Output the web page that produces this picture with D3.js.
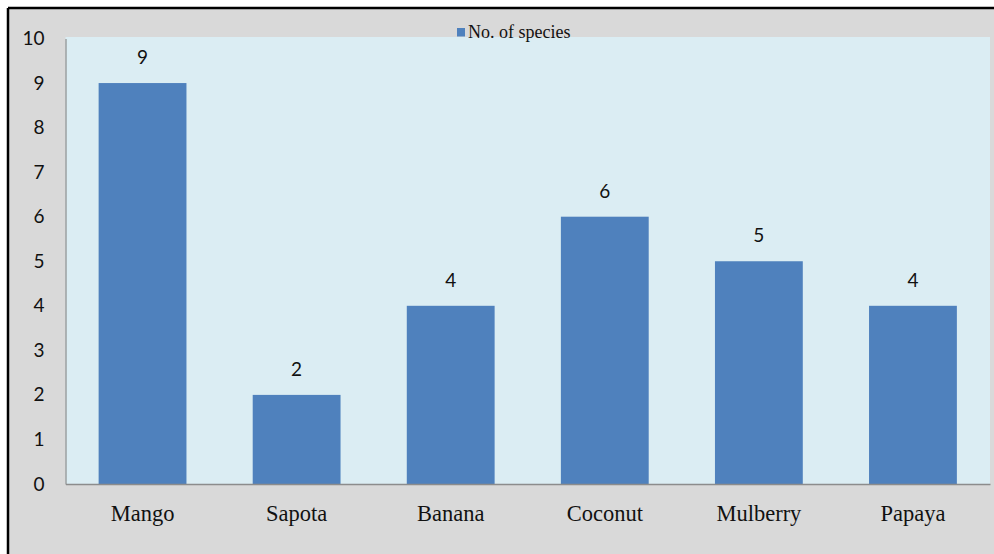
<!DOCTYPE html>
<html>
<head>
<meta charset="utf-8">
<script src="https://cdn.jsdelivr.net/npm/d3@7"></script>
<style>
  html, body { margin: 0; padding: 0; background: #ffffff; }
  svg { display: block; }
</style>
</head>
<body>
<svg id="chart" width="994" height="554"></svg>
<script>
// Fruit crops and the number of species recorded on each
const categories = ["Mango", "Sapota", "Banana", "Coconut", "Mulberry", "Papaya"];
const speciesCounts = [9, 2, 4, 6, 5, 4];
const yTicks = [0, 1, 2, 3, 4, 5, 6, 7, 8, 9, 10];
const seriesName = "No. of species";

const svg = d3.select("#chart");
const W = 994, H = 554;

// outer frame
svg.append("rect").attr("x", 8).attr("y", 8).attr("width", W - 8).attr("height", H - 8)
  .attr("fill", "#d9d9d9");
svg.append("line").attr("x1", 8).attr("x2", 8).attr("y1", 8).attr("y2", H)
  .attr("stroke", "#000").attr("stroke-width", 2.5);
svg.append("line").attr("x1", 8).attr("x2", W).attr("y1", 8).attr("y2", 8)
  .attr("stroke", "#000").attr("stroke-width", 2.5);

const plot = { left: 65.5, right: 990, top: 37, bottom: 484 };

const x = d3.scaleBand().domain(categories)
  .range([plot.left, plot.right]).paddingInner(0.43).paddingOuter(0.215);
const y = d3.scaleLinear().domain([0, 10]).range([plot.bottom, 38.5]);

// plot area
svg.append("rect").attr("x", plot.left).attr("y", plot.top)
  .attr("width", plot.right - plot.left).attr("height", plot.bottom - plot.top)
  .attr("fill", "#dbedf3");

// bars
svg.append("g").selectAll("rect").data(categories).join("rect")
  .attr("x", d => x(d))
  .attr("y", (d, i) => y(speciesCounts[i]))
  .attr("width", x.bandwidth())
  .attr("height", (d, i) => y(0) - y(speciesCounts[i]))
  .attr("fill", "#4f81bd");

// value labels
svg.append("g").selectAll("text").data(categories).join("text")
  .attr("x", d => x(d) + x.bandwidth() / 2)
  .attr("y", (d, i) => y(speciesCounts[i]) - 19)
  .attr("text-anchor", "middle")
  .attr("font-family", "Lato, 'Open Sans', sans-serif")
  .attr("font-size", 19)
  .attr("fill", "#111")
  .text((d, i) => speciesCounts[i]);

// y axis
const yAxis = d3.axisLeft(y).tickValues(yTicks).tickSize(0).tickPadding(0);
const gy = svg.append("g").attr("transform", `translate(${plot.left},0)`).call(yAxis);
gy.select(".domain").attr("stroke", "#8c8c8c").attr("stroke-width", 1.2);
gy.selectAll("text")
  .attr("x", -21)
  .attr("font-family", "Lato, 'Open Sans', sans-serif")
  .attr("font-size", 19)
  .attr("fill", "#111");

// x axis
const xAxis = d3.axisBottom(x).tickSize(0).tickPadding(0);
const gx = svg.append("g").attr("transform", `translate(0,${plot.bottom})`).call(xAxis);
gx.select(".domain").attr("stroke", "#8c8c8c").attr("stroke-width", 1.5);
gx.selectAll("text")
  .attr("y", 21)
  .attr("font-family", "'Liberation Serif', 'Times New Roman', serif")
  .attr("font-size", 22.5)
  .attr("fill", "#111");

// legend
const lg = svg.append("g").attr("transform", "translate(457,28)");
lg.append("rect").attr("width", 8).attr("height", 8.5).attr("fill", "#4f81bd");
lg.append("text").attr("x", 11).attr("y", 10)
  .attr("font-family", "'Liberation Serif', 'Times New Roman', serif")
  .attr("font-size", 18)
  .attr("fill", "#111")
  .text(seriesName);
</script>
</body>
</html>
